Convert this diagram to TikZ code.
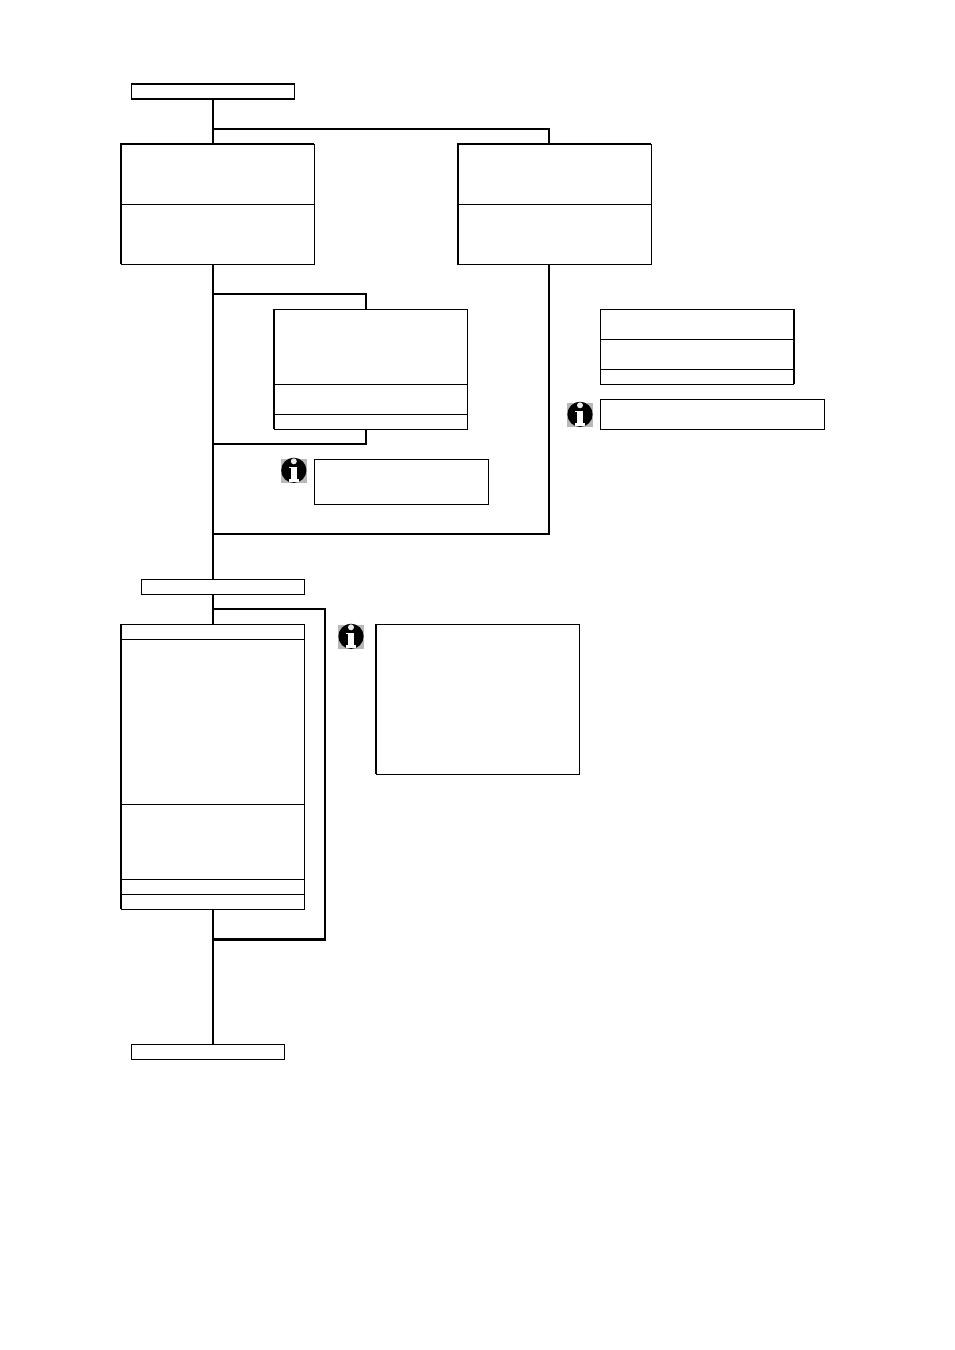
\documentclass[tikz,border=0pt]{standalone}
\usetikzlibrary{calc}
\tikzset{
  x=1pt,y=-1pt,
  cell/.style={draw=black,line width=1pt,fill=white,inner sep=0pt,outer sep=0pt,anchor=north west},
  flow/.style={draw=black,line width=2pt,line cap=butt,line join=miter},
  heavyflow/.style={flow,line width=2.8pt},
  accent/.style={draw=black,line width=2pt,line cap=butt,line join=miter},
  infoicon/.pic={
    \fill[black!28] (-13,-12.3) rectangle (13,11.7);
    \fill[black] (0,-0.5) circle (12.6);
    \fill[black!8] (0,-9.5) circle (3);
    \fill[white] (-3.3,-4) rectangle (3.3,8.5);
    \fill[white] (-5.2,8) rectangle (5.2,10.8);
    \fill[white] (-4.6,-4) rectangle (3.3,-2.4);
  }
}
\newcommand{\cellbox}[5]{\node[cell,minimum width=#4-#2,minimum height=#5-#3] (#1) at (#2,#3) {};}
\begin{document}
\begin{tikzpicture}
\useasboundingbox (0,0) rectangle (954,1350);
% connector points
\coordinate (t1) at (213,129);
\coordinate (t1r) at (549,129);
\coordinate (t2) at (213,294);
\coordinate (t2r) at (366,294);
\coordinate (t3) at (213,444);
\coordinate (t3r) at (366,444);
\coordinate (t4) at (213,534);
\coordinate (t4r) at (549,534);
\coordinate (t5) at (213,608.8);
\coordinate (t5r) at (325,608.8);
\coordinate (t6) at (213,939.4);
\coordinate (t6r) at (326,939.4);
\coordinate (t6v) at (325,939.4);
\coordinate (a0) at (213,99);
\coordinate (a1) at (213,144);
\coordinate (a2) at (213,264);
\coordinate (a3) at (213,580);
\coordinate (a4) at (213,594);
\coordinate (a5) at (213,625);
\coordinate (a6) at (213,909);
\coordinate (a7) at (213,1045);
\coordinate (r1) at (549,144);
\coordinate (r2) at (549,264);
\coordinate (m1) at (366,310);
\coordinate (m2) at (366,429);
% connectors
\draw[flow] (a0) -- (a1);
\draw[flow] (t1) -- (t1r) -- (r1);
\draw[flow] (a2) -- (a3);
\draw[flow] (t2) -- (t2r) -- (m1);
\draw[flow] (m2) -- (t3r) -- (t3);
\draw[flow] (r2) -- (t4r) -- (t4);
\draw[flow] (a4) -- (a5);
\draw[flow] (t5) -- (t5r) -- (t6v);
\draw[heavyflow] (t6r) -- (t6);
\draw[flow] (a6) -- (a7);
% boxes
\cellbox{start}{131.4}{84}{294.3}{99}
\cellbox{la}{121}{144}{314.3}{204}
\cellbox{lb}{121}{204}{314.3}{264.3}
\cellbox{ra}{457.6}{144}{651.3}{204}
\cellbox{rb}{457.6}{204}{651.3}{264.3}
\cellbox{ma}{274}{309.4}{467.3}{384.3}
\cellbox{mb}{274}{384.3}{467.3}{414.3}
\cellbox{mc}{274}{414.3}{467.3}{429.3}
\cellbox{noteA}{314.4}{459.4}{488.3}{504.3}
\cellbox{sa}{600.4}{309.4}{793.3}{339.3}
\cellbox{sb}{600.4}{339.3}{793.3}{369.3}
\cellbox{sc}{600.4}{369.3}{793.3}{384.3}
\cellbox{noteB}{600.4}{399.4}{824.3}{429.3}
\cellbox{mid}{141.4}{579.4}{304.3}{594.3}
\cellbox{ba}{121}{624.4}{304.3}{639.3}
\cellbox{bb}{121}{639.3}{304.3}{804.3}
\cellbox{bc}{121}{804.3}{304.3}{879.3}
\cellbox{bd}{121}{879.3}{304.3}{894.3}
\cellbox{be}{121}{894.3}{304.3}{909.3}
\cellbox{noteC}{376}{624.4}{579.3}{774.3}
\cellbox{end}{131.4}{1044.4}{284.3}{1059.3}
% heavier edges
\draw[accent,line width=1.6pt] (start.north west) rectangle (start.south east);
\draw[accent] (la.south west) -- (la.north west) -- (la.north east);
\draw[accent] (lb.north west) -- (lb.south west);
\draw[accent] (ra.south west) -- (ra.north west) -- (ra.north east);
\draw[accent] (rb.north west) -- (rb.south west);
\draw[accent] (ma.north west) -- (mc.south west);
\draw[accent] ($(sa.north east)+(0.5,0)$) -- ($(sc.south east)+(0.5,0)$);
\draw[accent] (ba.north west) -- (be.south west);
\draw[accent] (noteC.north west) -- (noteC.south west);
% information icons
\pic at (293.8,470.8) {infoicon};
\pic at (351,636.8) {infoicon};
\pic at (580,414.8) {infoicon};
\end{tikzpicture}
\end{document}
